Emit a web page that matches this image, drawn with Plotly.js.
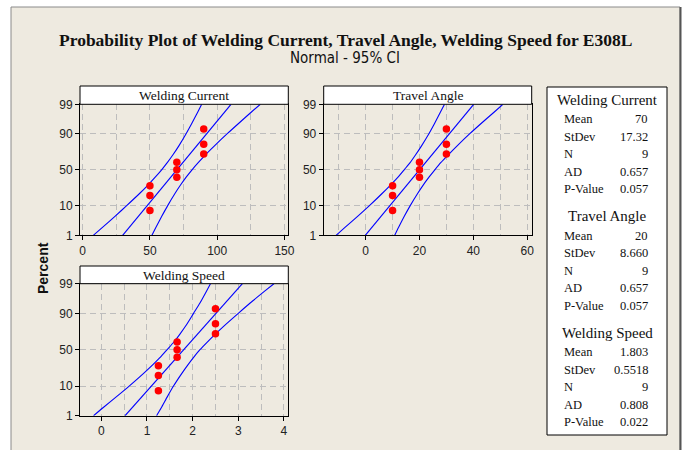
<!DOCTYPE html>
<html>
<head>
<meta charset="utf-8">
<script src="https://cdn.plot.ly/plotly-3.0.1.min.js"></script>
<style>html,body{margin:0;padding:0;background:#fff;}#chart{width:686px;height:450px;}</style>
</head>
<body>
<div id="chart"></div>
<script>
// ---------------- data ----------------
const panelNames = ['Welding Current', 'Travel Angle', 'Welding Speed'];
const plotPct = [7.4, 18.1, 28.7, 39.4, 50, 60.6, 71.3, 81.9, 92.6];
const currentVals = [50, 50, 50, 70, 70, 70, 90, 90, 90];
const angleVals = [10, 10, 10, 20, 20, 20, 30, 30, 30];
const speedVals = [1.25, 1.25, 1.25, 1.66, 1.66, 1.66, 2.5, 2.5, 2.5];

const fitPct = [1, 99];
const currentFit = [29.7, 110.3];
const angleFit = [-0.15, 40.15];
const speedFit = [0.52, 3.09];

const ciPct = [1, 2, 5, 10, 20, 30, 40, 50, 60, 70, 80, 90, 95, 98, 99];
const currentLo = [7.9, 14.5, 24.2, 32.5, 42.3, 48.9, 54.1, 58.7, 62.9, 67.0, 71.4, 76.9, 81.1, 85.6, 88.5];
const currentHi = [51.5, 54.4, 58.9, 63.1, 68.6, 73.0, 77.1, 81.3, 85.9, 91.1, 97.8, 107.5, 115.9, 125.5, 132.1];
const angleLo = [-11.0, -7.8, -2.9, 1.3, 6.1, 9.4, 12.1, 14.3, 16.5, 18.5, 20.7, 23.5, 25.6, 27.8, 29.3];
const angleHi = [10.8, 12.2, 14.4, 16.5, 19.3, 21.5, 23.6, 25.7, 27.9, 30.6, 33.9, 38.7, 42.9, 47.8, 51.0];
const speedLo = [-0.17, 0.03, 0.34, 0.61, 0.92, 1.13, 1.30, 1.44, 1.58, 1.71, 1.85, 2.02, 2.16, 2.30, 2.39];
const speedHi = [1.21, 1.31, 1.45, 1.58, 1.76, 1.90, 2.03, 2.16, 2.31, 2.48, 2.69, 3.00, 3.26, 3.57, 3.78];

const yTickPct = [1, 10, 50, 90, 99];
const yTickText = ['1', '10', '50', '90', '99'];

const statLabels = ['Mean', 'StDev', 'N', 'AD', 'P-Value'];
const statMean = ['70', '20', '1.803'];
const statStDev = ['17.32', '8.660', '0.5518'];
const statN = ['9', '9', '9'];
const statAD = ['0.657', '0.657', '0.808'];
const statP = ['0.057', '0.057', '0.022'];

// ---------------- probability scale (normal quantile) ----------------
function probit(p) {
  const a = [-3.969683028665376e+01, 2.209460984245205e+02, -2.759285104469687e+02, 1.383577518672690e+02, -3.066479806614716e+01, 2.506628277459239e+00];
  const b = [-5.447609879822406e+01, 1.615858368580409e+02, -1.556989798598866e+02, 6.680131188771972e+01, -1.328068155288572e+01];
  const c = [-7.784894002430293e-03, -3.223964580411365e-01, -2.400758277161838e+00, -2.549732539343734e+00, 4.374664141464968e+00, 2.938163982698783e+00];
  const d = [7.784695709041462e-03, 3.224671290700398e-01, 2.445134137142996e+00, 3.754408661907416e+00];
  const pl = 0.02425, ph = 1 - pl;
  let q, r;
  if (p < pl) { q = Math.sqrt(-2 * Math.log(p)); return (((((c[0]*q+c[1])*q+c[2])*q+c[3])*q+c[4])*q+c[5]) / ((((d[0]*q+d[1])*q+d[2])*q+d[3])*q+1); }
  if (p > ph) { q = Math.sqrt(-2 * Math.log(1 - p)); return -(((((c[0]*q+c[1])*q+c[2])*q+c[3])*q+c[4])*q+c[5]) / ((((d[0]*q+d[1])*q+d[2])*q+d[3])*q+1); }
  q = p - 0.5; r = q * q;
  return (((((a[0]*r+a[1])*r+a[2])*r+a[3])*r+a[4])*r+a[5])*q / (((((b[0]*r+b[1])*r+b[2])*r+b[3])*r+b[4])*r+1);
}
const Z = arr => arr.map(p => probit(p / 100));

// ---------------- traces ----------------
const BLUE = '#0000FF', RED = '#FF0000';
const panels = [
  {vals: currentVals, fit: currentFit, lo: currentLo, hi: currentHi, xa: 'x', ya: 'y'},
  {vals: angleVals, fit: angleFit, lo: angleLo, hi: angleHi, xa: 'x2', ya: 'y2'},
  {vals: speedVals, fit: speedFit, lo: speedLo, hi: speedHi, xa: 'x3', ya: 'y3'}
];
const traces = [];
panels.forEach(p => {
  const ln = {color: BLUE, width: 1.1, shape: 'spline', smoothing: 0.6};
  traces.push({x: p.lo, y: Z(ciPct), xaxis: p.xa, yaxis: p.ya, mode: 'lines', line: ln, hoverinfo: 'skip', showlegend: false});
  traces.push({x: p.hi, y: Z(ciPct), xaxis: p.xa, yaxis: p.ya, mode: 'lines', line: ln, hoverinfo: 'skip', showlegend: false});
  traces.push({x: p.fit, y: Z(fitPct), xaxis: p.xa, yaxis: p.ya, mode: 'lines', line: {color: BLUE, width: 1.1}, hoverinfo: 'skip', showlegend: false});
  traces.push({x: p.vals, y: Z(plotPct), xaxis: p.xa, yaxis: p.ya, mode: 'markers', marker: {color: RED, size: 7.5}, showlegend: false});
});

// ---------------- layout ----------------
const W = 686, H = 450;
const fx = px => px / W, fy = py => 1 - py / H;
const GRID = '#BDBDBD';
const DASH = '6px,4px';
const tickFont = {family: 'Liberation Sans, Arial, sans-serif', size: 12, color: '#222'};

function xAxis(dom, rng, dtick, minorTick, anchor) {
  return {domain: dom, range: rng, anchor: anchor, tickmode: 'linear', tick0: 0, dtick: dtick,
    showgrid: true, gridcolor: GRID, griddash: DASH, gridwidth: 1, zeroline: false,
    showline: true, mirror: true, linecolor: '#000', linewidth: 1,
    ticks: 'outside', ticklen: 4, tickcolor: '#000', tickfont: tickFont,
    minor: {dtick: minorTick, tick0: 0, showgrid: true, gridcolor: GRID, griddash: DASH, gridwidth: 1, ticks: ''}};
}
function yAxis(dom, anchor) {
  return {domain: dom, range: [probit(0.01), probit(0.99)], anchor: anchor, tickmode: 'array',
    tickvals: Z(yTickPct), ticktext: yTickText,
    showgrid: true, gridcolor: GRID, griddash: DASH, gridwidth: 1, zeroline: false,
    showline: true, mirror: true, linecolor: '#000', linewidth: 1,
    ticks: 'outside', ticklen: 4, tickcolor: '#000', tickfont: tickFont};
}

const topRow = [fy(235.3), fy(104.3)];
const botRow = [fy(415.7), fy(283.7)];
const leftCol = [fx(80), fx(288.3)];
const midCol = [fx(323.7), fx(531.7)];

const shapes = [
  // outer frame
  {type: 'rect', xref: 'paper', yref: 'paper', x0: fx(11), x1: fx(680), y0: fy(455), y1: fy(7), fillcolor: '#EEEAE0', line: {color: '#8A8A8A', width: 1}, layer: 'below'},
  {type: 'line', xref: 'paper', yref: 'paper', x0: fx(680.5), x1: fx(680.5), y0: fy(455), y1: fy(7), line: {color: '#555', width: 2}, layer: 'below'},
  // panel title boxes
  {type: 'rect', xref: 'paper', yref: 'paper', x0: fx(80), x1: fx(288.3), y0: fy(104.3), y1: fy(86), fillcolor: '#fff', line: {color: '#000', width: 1}},
  {type: 'rect', xref: 'paper', yref: 'paper', x0: fx(323.7), x1: fx(531.7), y0: fy(104.3), y1: fy(86), fillcolor: '#fff', line: {color: '#000', width: 1}},
  {type: 'rect', xref: 'paper', yref: 'paper', x0: fx(80), x1: fx(288.3), y0: fy(283.7), y1: fy(266), fillcolor: '#fff', line: {color: '#000', width: 1}},
  // stats box
  {type: 'rect', xref: 'paper', yref: 'paper', x0: fx(547), x1: fx(667), y0: fy(435), y1: fy(87), fillcolor: '#fff', line: {color: '#000', width: 1}}
];

const serif = 'Liberation Serif, Times New Roman, serif';
function ann(text, px, py, font, xanchor, extra) {
  return Object.assign({text: text, xref: 'paper', yref: 'paper', x: fx(px), y: fy(py),
    xanchor: xanchor || 'center', yanchor: 'middle', showarrow: false, font: font}, extra || {});
}
const annotations = [
  ann('<b>Probability Plot of Welding Current, Travel Angle, Welding Speed for E308L</b>', 345, 40, {family: serif, size: 17.5, color: '#111'}),
  ann('Normal - 95% CI', 345, 58, {family: 'DejaVu Sans Condensed, Liberation Sans Narrow, sans-serif', size: 15, color: '#111'}),
  ann('<b>Percent</b>', 43, 268, {family: 'Liberation Sans, Arial, sans-serif', size: 14, color: '#111'}, 'center', {textangle: -90}),
  ann(panelNames[0], 184, 95.5, {family: serif, size: 13.5, color: '#111'}),
  ann(panelNames[1], 427.7, 95.5, {family: serif, size: 13.5, color: '#111'}),
  ann(panelNames[2], 184, 275.5, {family: serif, size: 13.5, color: '#111'})
];
const statCols = [statMean, statStDev, statN, statAD, statP];
panelNames.forEach((name, k) => {
  const hy = 100 + k * 116.5;
  annotations.push(ann(name, 607, hy, {family: serif, size: 15, color: '#111'}));
  statLabels.forEach((lab, i) => {
    const ry = hy + 19 + i * 17.6;
    annotations.push(ann(lab, 562, ry, {family: serif, size: 12.5, color: '#111'}, 'left'));
    annotations.push(ann(statCols[i][k], 650, ry, {family: serif, size: 12.5, color: '#111'}, 'right'));
  });
});

const layout = {
  width: W, height: H, margin: {l: 0, r: 0, t: 0, b: 0},
  paper_bgcolor: '#FFFFFF', plot_bgcolor: '#FFFFFF', showlegend: false,
  xaxis: xAxis(leftCol, [-2.0, 152.9], 50, 25, 'y'),
  yaxis: yAxis(topRow, 'x'),
  xaxis2: xAxis(midCol, [-15.6, 61.7], 20, 10, 'y2'),
  yaxis2: yAxis(topRow, 'x2'),
  xaxis3: xAxis(leftCol, [-0.467, 4.095], 1, 0.5, 'y3'),
  yaxis3: yAxis(botRow, 'x3'),
  shapes: shapes, annotations: annotations
};
Plotly.newPlot('chart', traces, layout, {staticPlot: true, displayModeBar: false});
</script>
</body>
</html>
